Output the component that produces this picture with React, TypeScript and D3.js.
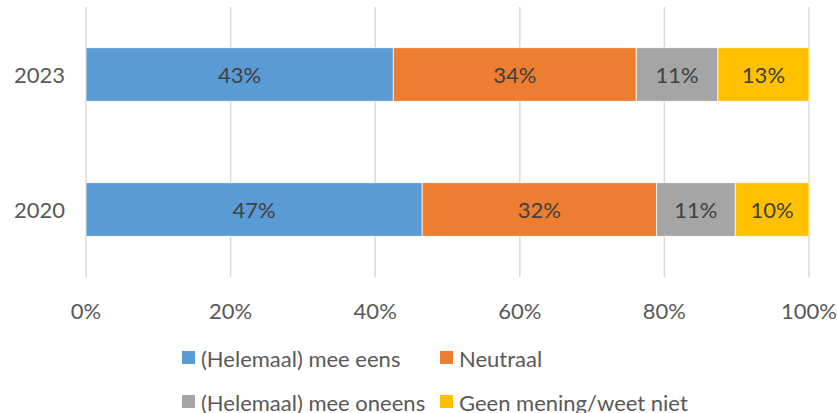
import React from "react";
import * as d3 from "d3";

const years = ["2023", "2020"];
const seriesNames = [
  "(Helemaal) mee eens",
  "Neutraal",
  "(Helemaal) mee oneens",
  "Geen mening/weet niet",
];
const colors = ["#5B9BD5", "#ED7D31", "#A5A5A5", "#FFC000"];
const agree = [42.5, 46.5];
const neutral = [33.6, 32.4];
const disagree = [11.3, 10.9];
const noOpinion = [12.6, 10.2];
const ticks = [0, 20, 40, 60, 80, 100];

const W = 837;
const H = 413;
const FONT = "Lato, 'Open Sans', sans-serif";

export default function App() {
  const x = d3.scaleLinear().domain([0, 100]).range([86, 809]);
  const y = d3.scaleBand().domain(years).range([7, 277]).paddingInner(0).paddingOuter(0);
  const barH = 53.5;

  const rows = years.map((yr, i) => ({
    year: yr,
    vals: [agree[i], neutral[i], disagree[i], noOpinion[i]],
  }));

  const stack = d3
    .stack<{ year: string; vals: number[] }, number>()
    .keys([0, 1, 2, 3])
    .value((d, k) => d.vals[k]);
  const layers = stack(rows);

  const legendPos = [
    { x: 182, y: 351 },
    { x: 440, y: 351 },
    { x: 182, y: 395 },
    { x: 440, y: 395 },
  ];

  return (
    <div style={{ position: "absolute", left: 0, top: 0 }}>
      <svg width={W} height={H} style={{ display: "block", background: "#fff" }} fontFamily={FONT}>
        {ticks.map((t) => (
          <line key={t} x1={x(t)} x2={x(t)} y1={7} y2={277} stroke="#D9D9D9" strokeWidth={1.5} />
        ))}
        {layers.map((layer, k) =>
          layer.map((seg, i) => {
            const yy = (y(rows[i].year) as number) + (y.bandwidth() - barH) / 2;
            const x0 = x(seg[0]);
            const x1 = x(seg[1]);
            return (
              <g key={`${k}-${i}`}>
                <rect x={x0} y={yy} width={x1 - x0} height={barH} fill={colors[k]} stroke="#fff" strokeWidth={0.75} />
                <text
                  x={(x0 + x1) / 2}
                  y={yy + barH / 2}
                  textAnchor="middle"
                  dominantBaseline="central"
                  fontSize={22}
                  fill="#404040"
                >
                  {Math.round(rows[i].vals[k])}%
                </text>
              </g>
            );
          })
        )}
        {years.map((yr) => (
          <text
            key={yr}
            x={65}
            y={(y(yr) as number) + y.bandwidth() / 2}
            textAnchor="end"
            dominantBaseline="central"
            fontSize={22}
            fill="#595959"
          >
            {yr}
          </text>
        ))}
        {ticks.map((t) => (
          <text key={t} x={x(t)} y={310} textAnchor="middle" dominantBaseline="central" fontSize={22} fill="#595959">
            {t}%
          </text>
        ))}
        {seriesNames.map((name, k) => (
          <g key={name}>
            <rect x={legendPos[k].x} y={legendPos[k].y} width={13} height={13} fill={colors[k]} />
            <text
              x={legendPos[k].x + 19}
              y={legendPos[k].y + 7}
              dominantBaseline="central"
              fontSize={22}
              fill="#595959"
            >
              {name}
            </text>
          </g>
        ))}
      </svg>
    </div>
  );
}
